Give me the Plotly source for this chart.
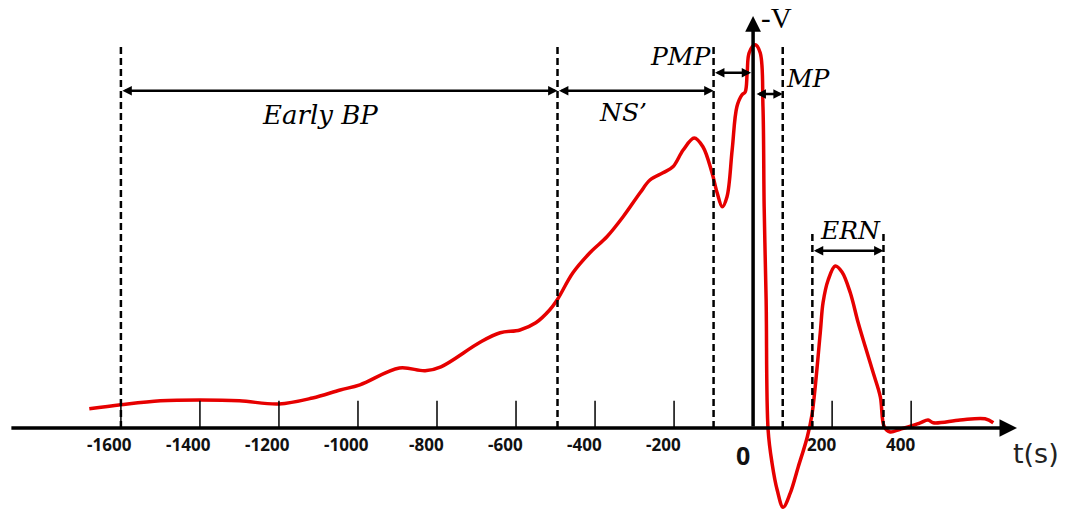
import plotly.graph_objects as go

# ---------------- data (time in ms, amplitude in arbitrary units, negative up) ----------------
curve_t = [-1680, -1600, -1500, -1400, -1300, -1200, -1115, -1045, -995, -895, -830, -790,
           -690, -640, -590, -550, -515, -496, -456, -413, -370, -329, -286, -261, -228,
           -203, -177, -149, -127, -104, -91, -78, -66, -53, -41, -28, -20, -15, -10, 5,
           18, 25, 28, 33, 38, 48, 61, 76, 94, 114, 137, 149, 170, 177, 190, 208, 225, 246,
           266, 284, 304, 322, 332, 347, 372, 400, 423, 443, 456, 524, 587, 608]
curve_v = [0.48, 0.58, 0.68, 0.70, 0.68, 0.60, 0.75, 0.95, 1.08, 1.50, 1.43, 1.53,
           2.15, 2.38, 2.45, 2.63, 2.95, 3.20, 3.88, 4.38, 4.78, 5.28, 5.88, 6.20, 6.38,
           6.53, 6.95, 7.25, 7.03, 6.38, 5.88, 5.53, 5.78, 6.95, 8.03, 8.33, 8.40, 8.88,
           9.38, 9.58, 9.38, 8.03, 5.53, 3.20, -0.05, -0.88, -1.55, -1.98, -1.63, -0.98,
           -0.23, 0.33, 2.38, 3.13, 3.70, 4.05, 3.90, 3.38, 2.63, 2.03, 1.38, 0.78, 0.03,
           -0.10, -0.03, 0.05, 0.13, 0.20, 0.13, 0.20, 0.23, 0.13]

tick_t = [-1600, -1400, -1200, -1000, -800, -600, -400, -200, 200, 400]
tick_labels = ["-1600", "-1400", "-1200", "-1000", "-800", "-600", "-400", "-200", "200", "400"]

boundary_t = [-1600, -495, -100, 75]        # tall dashed boundaries
ern_t = [150, 330]                           # ERN window

period_names = ["Early BP", "NS’", "PMP", "MP", "ERN"]
period_start = [-1600, -495, -100, 5, 150]
period_end = [-495, -100, -5, 75, 330]

# ---------------- placement ----------------
X_RANGE = [-1906, 797]
Y_RANGE = [-2.05, 10.7]
BLACK = "#000000"
RED = "#e60000"

fig = go.Figure()

fig.add_trace(go.Scatter(
    x=curve_t, y=curve_v, mode="lines",
    line=dict(color=RED, width=3.5, shape="spline", smoothing=1.0),
    hoverinfo="skip", showlegend=False,
))

shapes = []
for t in tick_t:
    shapes.append(dict(type="line", xref="x", yref="y", x0=t, x1=t, y0=0, y1=0.68,
                       line=dict(color=BLACK, width=1.5)))
for t in boundary_t:
    shapes.append(dict(type="line", xref="x", yref="y", x0=t, x1=t, y0=0, y1=9.55,
                       line=dict(color=BLACK, width=2.5, dash="7px,4px")))
for t in ern_t:
    shapes.append(dict(type="line", xref="x", yref="y", x0=t, x1=t, y0=0, y1=4.9,
                       line=dict(color=BLACK, width=2.5, dash="7px,4px")))

annotations = []
# x axis arrow
annotations.append(dict(x=668, y=0, ax=-1881, ay=0, xref="x", yref="y", axref="x", ayref="y",
                        text="", showarrow=True, arrowhead=2, arrowsize=1.0, arrowwidth=3.5,
                        arrowcolor=BLACK, standoff=0))
# y axis arrow
annotations.append(dict(x=0, y=10.3, ax=0, ay=0, xref="x", yref="y", axref="x", ayref="y",
                        text="", showarrow=True, arrowhead=2, arrowsize=0.9, arrowwidth=3.5,
                        arrowcolor=BLACK, standoff=0))

arrow_y = [8.43, 8.43, 8.88, 8.35, 4.43]
label_pos = [(-1096, 7.83), (-329, 7.9), (-185, 9.28), (139, 8.75), (246, 4.95)]
label_size = [26, 25, 25, 25, 25]
for name, s, e, ay, (lx, ly), fs in zip(period_names, period_start, period_end, arrow_y,
                                         label_pos, label_size):
    annotations.append(dict(x=e, y=ay, ax=s, ay=ay, xref="x", yref="y", axref="x", ayref="y",
                            text="", showarrow=True, arrowhead=2, startarrowhead=2,
                            arrowside="end+start", arrowsize=0.75, startarrowsize=0.75,
                            arrowwidth=2.5, arrowcolor=BLACK, standoff=0, startstandoff=0))
    annotations.append(dict(x=lx, y=ly, xref="x", yref="y", text="<i>" + name + "</i>",
                            showarrow=False,
                            font=dict(family="DejaVu Serif", size=fs, color=BLACK)))

for t, lab in zip(tick_t, tick_labels):
    annotations.append(dict(x=t, y=-0.40, xref="x", yref="y", text="<b>" + lab + "</b>",
                            showarrow=False, xshift=-11,
                            font=dict(family="Open Sans", size=17, color="#111111")))
annotations.append(dict(x=-25, y=-0.68, xref="x", yref="y", text="<b>0</b>", showarrow=False,
                        font=dict(family="Open Sans", size=25, color="#111111")))
annotations.append(dict(x=716, y=-0.63, xref="x", yref="y", text="t(s)", showarrow=False,
                        font=dict(family="DejaVu Sans", size=27, color="#222222")))
annotations.append(dict(x=58, y=10.25, xref="x", yref="y", text="-V", showarrow=False,
                        font=dict(family="Liberation Serif", size=29, color=BLACK)))

fig.update_layout(
    width=1068, height=510,
    margin=dict(l=0, r=0, t=0, b=0),
    paper_bgcolor="white", plot_bgcolor="white",
    xaxis=dict(visible=False, range=X_RANGE, fixedrange=True),
    yaxis=dict(visible=False, range=Y_RANGE, fixedrange=True),
    shapes=shapes, annotations=annotations,
    showlegend=False,
)

fig.write_html("out.html", config={"displayModeBar": False},
               post_script="document.body.style.margin='0';")
